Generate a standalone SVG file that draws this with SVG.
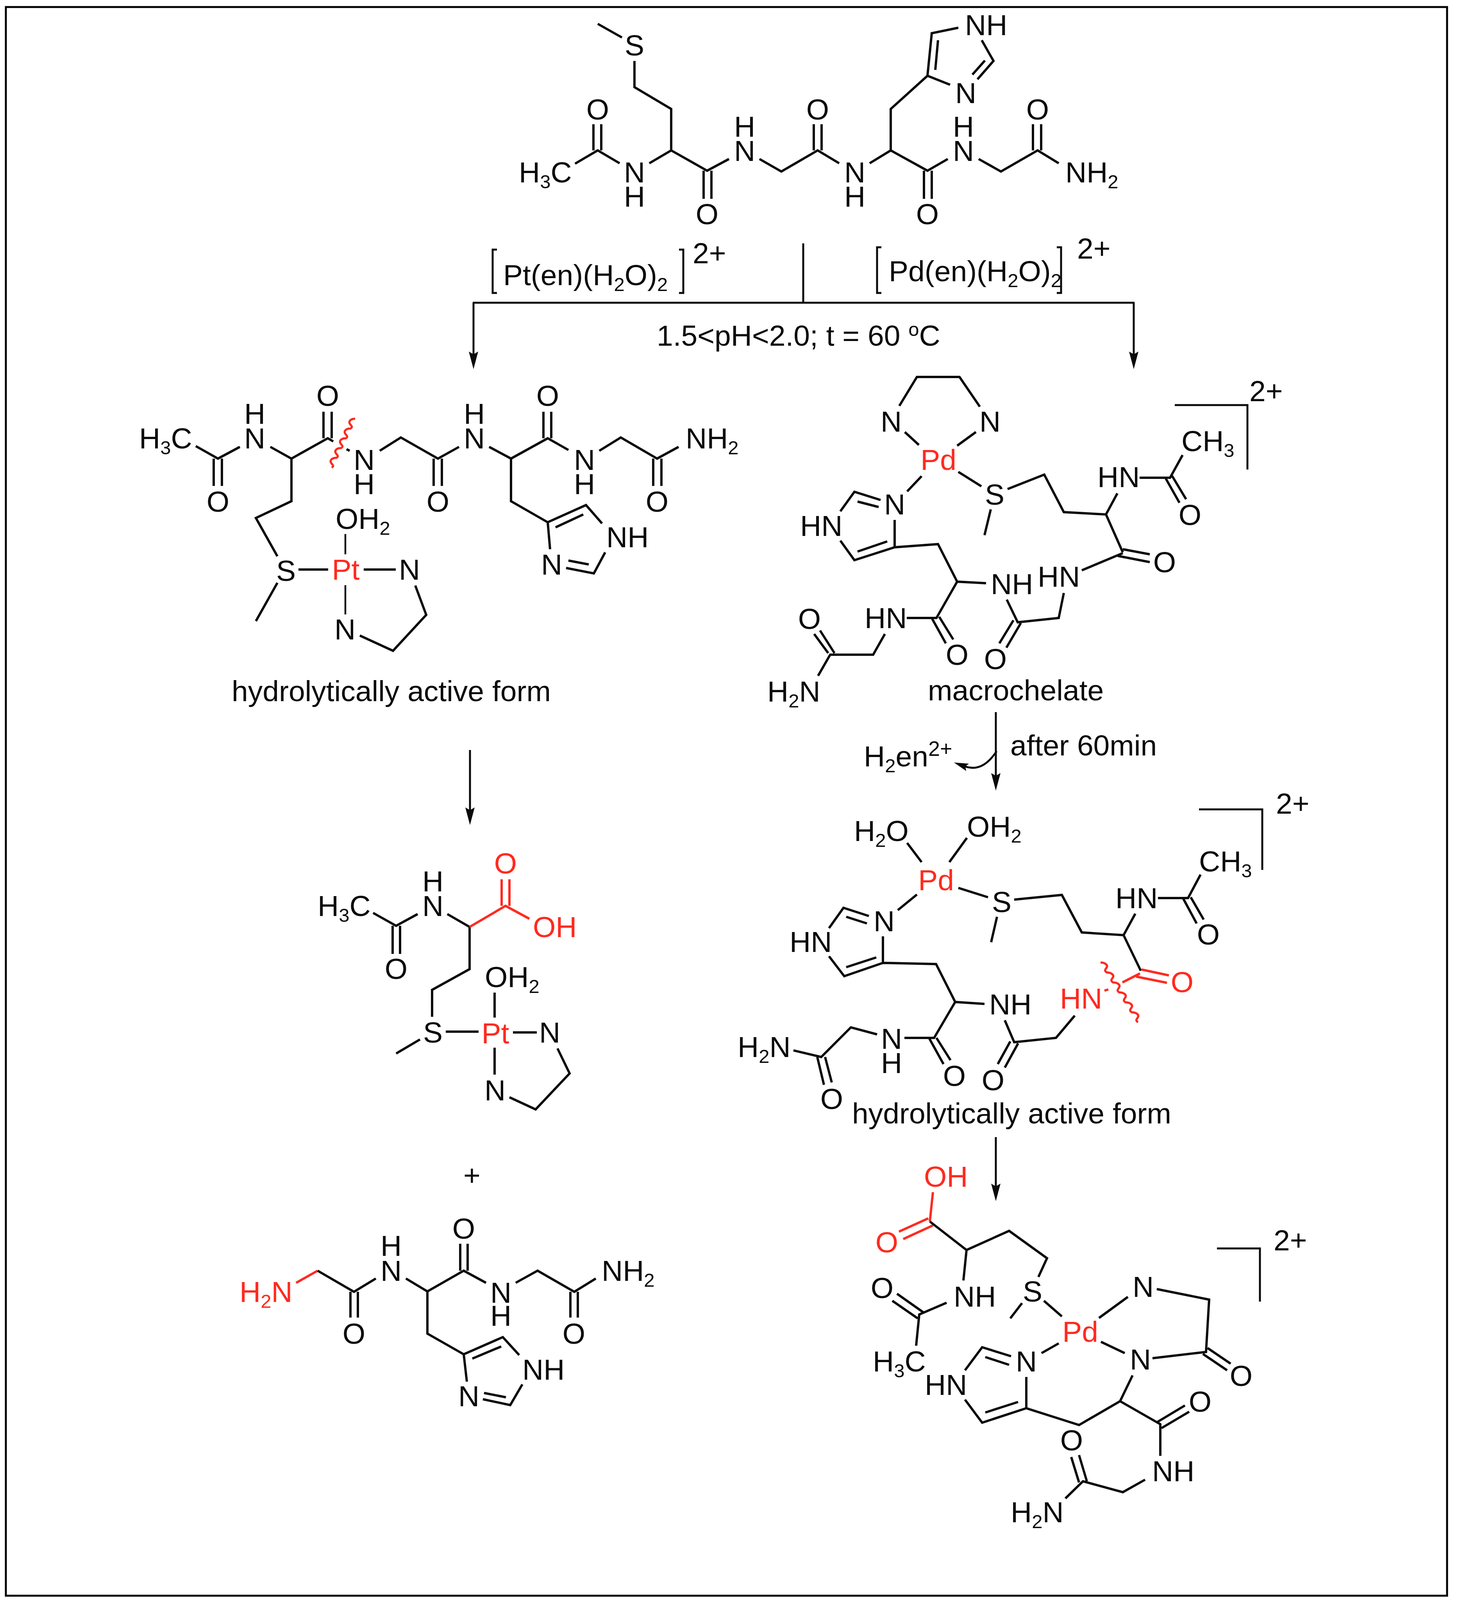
<svg xmlns="http://www.w3.org/2000/svg" width="3732" height="4113" viewBox="0 0 3732 4113">
<style>
text{font-family:"Liberation Sans",Arial,sans-serif;font-size:75px;fill:#0a0a0a}
.m{text-anchor:middle}
.red{fill:#ff2a1f}
.u{font-size:49px}
.v{font-size:54px}
.b{fill:none;stroke:#0a0a0a;stroke-width:6;stroke-linejoin:miter}
.r{fill:none;stroke:#ff2a1f;stroke-width:6}
.w{fill:none;stroke:#ff2a1f;stroke-width:5.5}
.t{fill:none;stroke:#0a0a0a;stroke-width:5}
.n{fill:none;stroke:#0a0a0a;stroke-width:4.5}
</style>
<defs>
<marker id="ah" markerUnits="userSpaceOnUse" markerWidth="50" markerHeight="30" refX="36" refY="15" orient="auto"><path d="M46,15 L1,3 L8,15 L1,27Z" fill="#0a0a0a"/></marker>
<marker id="ah2" markerUnits="userSpaceOnUse" markerWidth="42" markerHeight="30" refX="8" refY="15" orient="auto"><path d="M38,15 L1,5 L7,15 L1,25Z" fill="#0a0a0a"/></marker>
</defs>
<rect id="frame" x="15" y="18" width="3689" height="4067" fill="#fff" stroke="#000" stroke-width="5"/>

<g id="connectors">
<path class="t" d="M2056,623V775M1210,775H2904"/>
<path class="t" marker-end="url(#ah)" d="M1212,775V935"/>
<path class="t" marker-end="url(#ah)" d="M2902,775V935"/>
<path class="t" marker-end="url(#ah)" d="M1203,1920V2102"/>
<path class="t" marker-end="url(#ah)" d="M2549,1823V2014"/>
<path class="t" marker-end="url(#ah2)" d="M2551,1923Q2515,1978 2470,1962"/>
<path class="t" marker-end="url(#ah)" d="M2549,2911V3065"/>
</g>

<g id="reagents">
<path class="t" d="M1272,639H1261V750H1272M1738,639H1749V750H1738M2256,633H2245V750H2256M2705,633H2716V750H2705"/>
<text x="1288" y="730">Pt(en)(H<tspan class="u" dy="15">2</tspan><tspan dy="-15">O)</tspan><tspan class="u" dy="15">2</tspan></text>
<text x="1773" y="674">2+</text>
<text x="2275" y="720">Pd(en)(H<tspan class="u" dy="15">2</tspan><tspan dy="-15">O)</tspan><tspan class="u" dy="15">2</tspan></text>
<text x="2757" y="662">2+</text>
<text x="1681" y="885">1.5&lt;pH&lt;2.0; t = 60 <tspan class="u" dy="-25">o</tspan><tspan dy="25">C</tspan></text>
</g>

<g id="peptide">
<path class="b" d="M1530,61L1592,96M1624,156V223L1718,279V385L1662,418M1718,385L1810,437L1866,407M1801,437V509M1821,437V509M1586,418L1530,385L1472,419M1519,385V318M1539,385V318M1944,407L2000,439L2093,385L2148,418M2083,385V318M2103,385V318M2226,418L2280,385V279L2374,194L2432,217M2502,203L2543,156L2513,103M2489,191L2521,155M2453,71L2385,85L2374,194M2401,103L2394,179M2280,385L2374,437L2426,407M2365,437V509M2385,437V509M2505,407L2562,439L2656,385L2710,418M2644,385V318M2665,385V318"/>
<text class="m" x="1624" y="142">S</text>
<text x="1328" y="467">H<tspan class="u" dy="15">3</tspan><tspan dy="-15">C</tspan></text>
<text class="m" x="1530" y="306">O</text>
<text class="m" x="1624" y="467">N</text><text class="m" x="1624" y="529">H</text>
<text class="m" x="1810" y="574">O</text>
<text class="m" x="1906" y="412">N</text><text class="m" x="1906" y="350">H</text>
<text class="m" x="2093" y="306">O</text>
<text class="m" x="2188" y="467">N</text><text class="m" x="2188" y="529">H</text>
<text class="m" x="2472" y="264">N</text>
<text x="2470" y="90">NH</text>
<text class="m" x="2374" y="574">O</text>
<text class="m" x="2466" y="412">N</text><text class="m" x="2466" y="350">H</text>
<text class="m" x="2656" y="306">O</text>
<text x="2727" y="467">NH<tspan class="u" dy="15">2</tspan></text>
</g>

<g id="pt-complex">
<path class="b" d="M501,1142L558,1174L614,1144M547,1174V1244M568,1174V1244M692,1144L746,1174L839,1122L853,1130M828,1122V1054M849,1122V1054M887,1150L895,1154M972,1154L1026,1120L1121,1174L1175,1144M1110,1174V1244M1131,1174V1244M1252,1144L1308,1174L1402,1122L1455,1152M1391,1122V1054M1411,1122V1054M1534,1154L1589,1120L1682,1174L1737,1144M1672,1174V1244M1693,1174V1244M1308,1174V1283L1402,1337L1500,1293L1541,1340M1422,1350L1493,1317M1549,1414L1520,1468L1449,1454M1455,1435L1507,1445M1402,1337L1408,1406M746,1174V1283L655,1326L710,1424M710,1492L655,1590M764,1458H840M931,1458H1013M921,1627L1006,1666L1091,1574L1063,1499"/>
<path class="n" d="M884,1367V1419M884,1498V1573"/>
<path class="w" d="M909,1072c-11,0 -17,6 -14,12c3,6 10,8 2,13c-11,0 -17,6 -14,12c3,6 10,8 2,13c-11,0 -17,6 -14,12c3,6 10,8 2,13c-11,0 -17,6 -14,12c3,6 10,8 2,13c-11,0 -17,6 -14,12c3,6 10,8 2,13"/>
<text x="356" y="1148">H<tspan class="u" dy="15">3</tspan><tspan dy="-15">C</tspan></text>
<text class="m" x="558" y="1310">O</text>
<text class="m" x="652" y="1148">N</text><text class="m" x="652" y="1085">H</text>
<text class="m" x="839" y="1039">O</text>
<text class="m" x="932" y="1203">N</text><text class="m" x="932" y="1265">H</text>
<text class="m" x="1121" y="1310">O</text>
<text class="m" x="1214" y="1148">N</text><text class="m" x="1214" y="1085">H</text>
<text class="m" x="1402" y="1039">O</text>
<text class="m" x="1496" y="1203">N</text><text class="m" x="1496" y="1265">H</text>
<text class="m" x="1682" y="1310">O</text>
<text x="1755" y="1148">NH<tspan class="u" dy="15">2</tspan></text>
<text x="1552" y="1401">NH</text>
<text class="m" x="1412" y="1471">N</text>
<text class="m" x="732" y="1487">S</text>
<text class="m red" x="885" y="1484">Pt</text>
<text class="m" x="1048" y="1484">N</text>
<text x="859" y="1354">OH<tspan class="u" dy="15">2</tspan></text>
<text class="m" x="883" y="1637">N</text>
<text x="593" y="1795">hydrolytically active form</text>
</g>

<g id="pd-macrochelate">
<path class="b" d="M2302,1039L2347,965H2456L2508,1041M2316,1106L2352,1139M2498,1106L2450,1141M2359,1219L2322,1258M2453,1208L2512,1245M2579,1252L2673,1215L2723,1311L2831,1317L2860,1263M2536,1304L2520,1370M2917,1223H2995L3027,1165M2984,1225L3019,1287M3000,1218L3036,1278M2831,1317L2874,1414M2874,1406L2943,1419M2861,1423L2943,1439M2874,1416L2769,1460M2723,1518L2710,1582L2605,1593L2577,1535M2594,1588L2558,1647M2613,1595L2576,1658M2524,1493L2450,1489L2401,1393L2290,1401V1331M2290,1401L2187,1434L2151,1384M2271,1386L2195,1412M2151,1309L2187,1259L2254,1280M2195,1284L2249,1298M2450,1489L2397,1582H2321M2386,1584L2421,1647M2404,1579L2440,1637M2265,1623L2235,1676H2125L2094,1730M2120,1672L2084,1623M2136,1672L2099,1614"/>
<path class="t" d="M3007,1037H3193V1202"/>
<text x="3198" y="1027">2+</text>
<text class="m" x="2281" y="1105">N</text>
<text class="m" x="2534" y="1105">N</text>
<text class="m red" x="2402" y="1203">Pd</text>
<text class="m" x="2290" y="1317">N</text>
<text class="m" x="2546" y="1292">S</text>
<text x="2809" y="1247">HN</text>
<text x="3024" y="1155">CH<tspan class="u" dy="15">3</tspan></text>
<text class="m" x="3046" y="1344">O</text>
<text class="m" x="2981" y="1465">O</text>
<text x="2656" y="1502">HN</text>
<text class="m" x="2548" y="1713">O</text>
<text x="2536" y="1521">NH</text>
<text x="2048" y="1372">HN</text>
<text class="m" x="2450" y="1702">O</text>
<text x="2213" y="1608">HN</text>
<text class="m" x="2072" y="1610">O</text>
<text x="1964" y="1796">H<tspan class="u" dy="15">2</tspan><tspan dy="-15">N</tspan></text>
<text x="2375" y="1793">macrochelate</text>
<text x="2211" y="1962">H<tspan class="u" dy="15">2</tspan><tspan dy="-15">en</tspan><tspan class="v" dy="-27">2+</tspan></text>
<text x="2586" y="1934">after 60min</text>
</g>

<g id="pd-active">
<path class="b" d="M2322,2158L2359,2207M2475,2145L2430,2207M2453,2273L2529,2297M2596,2303L2718,2291L2769,2387L2876,2394L2906,2339M2552,2347L2537,2412M2347,2290L2298,2330M2964,2299H3041L3073,2239M3029,2301L3063,2364M3048,2297L3081,2354M2876,2394L2920,2485M2751,2600L2703,2657L2596,2668L2572,2612M2586,2666L2554,2724M2606,2671L2572,2733M2520,2570L2445,2565L2396,2468L2260,2465V2397M2260,2465L2161,2499L2122,2448M2243,2451L2166,2476M2122,2376L2159,2324L2224,2345M2166,2347L2219,2364M2445,2565L2391,2657H2315M2379,2659L2415,2724M2397,2657L2433,2714M2245,2648L2178,2630L2102,2706L2031,2689M2092,2706L2109,2777M2112,2706L2129,2771"/>
<path class="r" d="M2922,2482L2992,2497M2908,2500L2987,2516M2918,2492L2873,2515M2827,2536L2837,2533"/>
<path class="w" d="M2817,2464c11,0 19,6 16,12c-3,6 -8,8 0,13.5c11,0 19,6 16,12c-3,6 -8,8 0,13.5c11,0 19,6 16,12c-3,6 -8,8 0,13.5c11,0 19,6 16,12c-3,6 -8,8 0,13.5c11,0 19,6 16,12c-3,6 -8,8 0,13.5c11,0 19,6 16,12c-3,6 -8,8 0,13.5"/>
<path class="t" d="M3069,2072H3231V2227"/>
<text x="3266" y="2083">2+</text>
<text x="2186" y="2153">H<tspan class="u" dy="15">2</tspan><tspan dy="-15">O</tspan></text>
<text x="2475" y="2142">OH<tspan class="u" dy="15">2</tspan></text>
<text class="m red" x="2396" y="2279">Pd</text>
<text class="m" x="2564" y="2335">S</text>
<text class="m" x="2263" y="2384">N</text>
<text x="2855" y="2325">HN</text>
<text x="3069" y="2231">CH<tspan class="u" dy="15">3</tspan></text>
<text class="m" x="3093" y="2418">O</text>
<text class="m red" x="3026" y="2540">O</text>
<text class="red" x="2713" y="2582">HN</text>
<text class="m" x="2542" y="2791">O</text>
<text x="2532" y="2597">NH</text>
<text x="2021" y="2437">HN</text>
<text class="m" x="2443" y="2780">O</text>
<text class="m" x="2282" y="2685">N</text><text class="m" x="2282" y="2747">H</text>
<text class="m" x="2129" y="2839">O</text>
<text x="1888" y="2706">H<tspan class="u" dy="15">2</tspan><tspan dy="-15">N</tspan></text>
<text x="2181" y="2876">hydrolytically active form</text>
</g>

<g id="pd-product">
<path class="r" d="M2388,3052L2380,3127M2301,3153L2376,3119M2312,3172L2388,3137"/>
<path class="b" d="M2380,3127L2474,3200L2583,3151L2680,3221L2658,3269M2616,3336L2586,3375M2672,3330L2718,3370M2474,3200L2466,3278M2423,3335L2353,3365L2345,3445M2349,3375L2284,3330M2364,3360L2296,3312M2813,3374L2887,3320M2961,3300L3095,3327L3087,3461L2950,3477M2818,3435L2879,3464M3079,3466L3141,3508M3091,3451L3150,3491M2899,3521L2867,3587L2762,3648L2627,3605V3525M2666,3464L2710,3439M2588,3472L2514,3449L2470,3508M2522,3474L2583,3494M2470,3583L2514,3642L2627,3605M2522,3616L2606,3589M2867,3587L2970,3646V3727M2963,3640L3033,3598M2973,3656L3044,3614M2931,3788L2874,3820L2772,3792L2727,3836M2762,3795L2742,3730M2782,3792L2762,3725"/>
<path class="t" d="M3115,3196H3225V3332"/>
<text x="3260" y="3201">2+</text>
<text class="red" x="2365" y="3038">OH</text>
<text class="m red" x="2270" y="3206">O</text>
<text class="m" x="2643" y="3332">S</text>
<text x="2441" y="3345">NH</text>
<text class="m" x="2258" y="3323">O</text>
<text x="2234" y="3511">H<tspan class="u" dy="15">3</tspan><tspan dy="-15">C</tspan></text>
<text class="m red" x="2765" y="3435">Pd</text>
<text class="m" x="2926" y="3320">N</text>
<text class="m" x="2919" y="3506">N</text>
<text class="m" x="3177" y="3548">O</text>
<text class="m" x="2627" y="3511">N</text>
<text x="2367" y="3571">HN</text>
<text class="m" x="3072" y="3614">O</text>
<text x="2949" y="3792">NH</text>
<text class="m" x="2743" y="3713">O</text>
<text x="2587" y="3897">H<tspan class="u" dy="15">2</tspan><tspan dy="-15">N</tspan></text>
</g>

<g id="pt-product">
<path class="b" d="M955,2337L1014,2370L1069,2340M1005,2370V2442M1024,2370V2442M1145,2340L1202,2373V2481L1106,2534V2603M1075,2661L1014,2697M1141,2641H1225M1313,2643H1374M1266,2541V2605M1266,2682V2751M1304,2809L1371,2840L1458,2748L1427,2684"/>
<path class="r" d="M1202,2373L1294,2319L1355,2352M1284,2319V2251M1304,2319V2251"/>
<text x="813" y="2345">H<tspan class="u" dy="15">3</tspan><tspan dy="-15">C</tspan></text>
<text class="m" x="1014" y="2506">O</text>
<text class="m" x="1108" y="2345">N</text><text class="m" x="1108" y="2282">H</text>
<text class="m red" x="1294" y="2236">O</text>
<text class="red" x="1364" y="2399">OH</text>
<text class="m" x="1108" y="2669">S</text>
<text class="m red" x="1268" y="2671">Pt</text>
<text class="m" x="1407" y="2669">N</text>
<text x="1241" y="2527">OH<tspan class="u" dy="15">2</tspan></text>
<text class="m" x="1267" y="2817">N</text>
</g>

<text id="plus" class="m" x="1208" y="3035">+</text>

<g id="peptide-fragment">
<path class="r" d="M758,3284L813,3253"/>
<path class="b" d="M813,3253L906,3307L962,3273M897,3307V3373M916,3307V3373M1039,3273L1094,3306L1187,3253L1244,3284M1178,3253V3184M1197,3253V3184M1320,3284L1376,3253L1470,3307L1525,3273M1460,3307V3373M1479,3307V3373M1094,3306V3414L1187,3467L1287,3423L1329,3469M1209,3478L1283,3447M1337,3544L1306,3597L1236,3582M1239,3566L1295,3577M1187,3467L1195,3537"/>
<text class="red" x="613" y="3333">H<tspan class="u" dy="15">2</tspan><tspan dy="-15">N</tspan></text>
<text class="m" x="906" y="3440">O</text>
<text class="m" x="1001" y="3279">N</text><text class="m" x="1001" y="3215">H</text>
<text class="m" x="1187" y="3171">O</text>
<text class="m" x="1282" y="3335">N</text><text class="m" x="1282" y="3394">H</text>
<text class="m" x="1469" y="3440">O</text>
<text x="1540" y="3279">NH<tspan class="u" dy="15">2</tspan></text>
<text x="1337" y="3532">NH</text>
<text class="m" x="1200" y="3600">N</text>
</g>
</svg>
